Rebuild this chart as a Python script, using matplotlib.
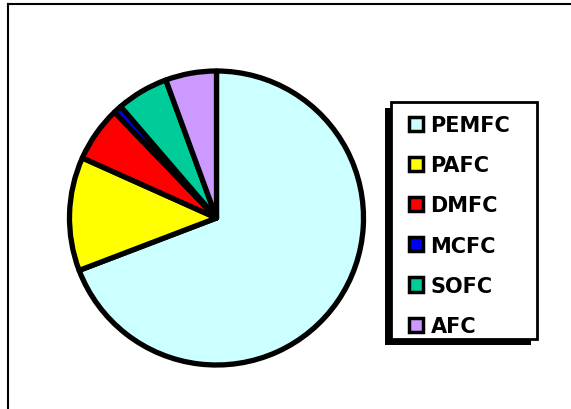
import matplotlib
matplotlib.use('Agg')
import matplotlib.pyplot as plt
from matplotlib.lines import Line2D
from matplotlib.patches import Rectangle

# fuel cell types, share in percent
labels = ["PEMFC", "PAFC", "DMFC", "MCFC", "SOFC", "AFC"]
shares = [69.2, 12.5, 6.1, 0.9, 5.7, 5.6]
colors = ["#CCFFFF", "#FFFF00", "#FF0000", "#0000FF", "#00CC99", "#CC99FF"]

W, H = 571, 410
fig = plt.figure(figsize=(W / 100, H / 100), dpi=100)


def px_box(x0, y0, x1, y1):
    # pixel box (top-left origin) -> figure fraction rect
    return [x0 / W, 1 - y1 / H, (x1 - x0) / W, (y1 - y0) / H]


# pie placed by pixel centre / radius
cx, cy, r = 216.5, 219, 147
ax = fig.add_axes(px_box(cx - r, cy - r, cx + r, cy + r))
wedges, _ = ax.pie(
    shares,
    colors=colors,
    startangle=90,
    counterclock=False,
    radius=1.0,
    wedgeprops={"edgecolor": "black", "linewidth": 3.8, "joinstyle": "round"},
)
ax.set_xlim(-1.0, 1.0)
ax.set_ylim(-1.0, 1.0)
ax.set_aspect("equal")
ax.axis("off")

# legend box: black drop shadow to the lower left, then white frame
fx0, fy0, fx1, fy1 = 391, 103, 537, 340
sh = 6
sbox = px_box(fx0 - sh, fy0 + sh, fx1 - sh, fy1 + sh)
fig.add_artist(Rectangle((sbox[0], sbox[1]), sbox[2], sbox[3],
                         transform=fig.transFigure, facecolor="black", lw=0))
fbox = px_box(fx0, fy0, fx1, fy1)
fig.add_artist(Rectangle((fbox[0], fbox[1]), fbox[2], fbox[3],
                         transform=fig.transFigure, facecolor="white",
                         edgecolor="black", lw=2))

leg = fig.legend(
    wedges,
    labels,
    loc="upper left",
    bbox_to_anchor=(409 / W, 1 - 116 / H),
    frameon=False,
    handlelength=0.68,
    handleheight=0.68,
    handletextpad=0.35,
    labelspacing=0.97,
    borderpad=0,
    borderaxespad=0,
    prop={"family": "DejaVu Sans", "weight": "bold", "size": 15},
)
for h in leg.legend_handles:
    h.set_linewidth(2.5)
    h.set_joinstyle("miter")

# outer chart border (only top and left show in the crop)
fig.add_artist(Line2D([8 / W, 1], [1 - 5 / H, 1 - 5 / H], color="black", lw=1.5))
fig.add_artist(Line2D([8 / W, 8 / W], [0, 1 - 5 / H], color="black", lw=1.5))

fig.savefig("out.png", dpi=100)
